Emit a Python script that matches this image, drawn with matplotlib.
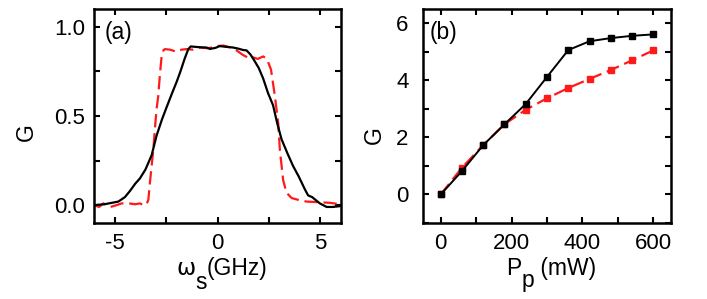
import matplotlib
matplotlib.use("Agg")
import matplotlib.pyplot as plt
from matplotlib.ticker import MultipleLocator, FuncFormatter
from matplotlib.transforms import IdentityTransform

plt.rcParams['font.family'] = ['Liberation Sans', 'DejaVu Sans']

# Panel (a): gain spectrum
freq_black = [-6.0, -5.5, -4.82, -4.5, -4.25, -4.0, -3.77, -3.5, -3.2, -2.96, -2.7, -2.47, -2.2,
              -1.99, -1.8, -1.6, -1.42, -1.3, -1.1, -0.8, -0.53, -0.37, -0.1, 0.11, 0.4, 0.76,
              1.0, 1.25, 1.41, 1.6, 1.74, 2.0, 2.22, 2.45, 2.7, 2.9, 3.11, 3.4, 3.67, 3.95,
              4.24, 4.4, 4.6, 4.97, 5.3, 5.6, 6.0]
gain_black = [0.0, 0.005, 0.02, 0.045, 0.08, 0.12, 0.15, 0.2, 0.28, 0.39, 0.48, 0.55, 0.63,
              0.69, 0.75, 0.82, 0.875, 0.89, 0.888, 0.885, 0.884, 0.876, 0.882, 0.892, 0.888,
              0.884, 0.878, 0.87, 0.868, 0.845, 0.82, 0.77, 0.71, 0.63, 0.56, 0.46, 0.37, 0.29,
              0.22, 0.16, 0.09, 0.055, 0.045, 0.01, -0.01, -0.01, -0.005]

freq_red = [-6.0, -5.75, -5.55, -5.2, -4.9, -4.66, -4.3, -4.0, -3.77, -3.6, -3.45, -3.36, -3.28,
            -3.2, -3.12, -3.04, -2.96, -2.88, -2.8, -2.71, -2.62, -2.55, -2.3, -1.99, -1.75,
            -1.5, -1.2, -0.85, -0.5, -0.2, 0.04, 0.3, 0.6, 0.9, 1.2, 1.35, 1.49, 1.7, 1.95,
            2.22, 2.4, 2.6, 2.79, 2.95, 3.03, 3.19, 3.35, 3.6, 3.92, 4.33, 4.89, 5.46, 6.0]
gain_red = [0.0, -0.01, 0.01, -0.01, 0.0, 0.01, 0.01, 0.005, 0.01, 0.0, 0.005, 0.03, 0.13,
            0.22, 0.31, 0.43, 0.54, 0.61, 0.73, 0.84, 0.87, 0.875, 0.872, 0.86, 0.872,
            0.875, 0.872, 0.884, 0.88, 0.885, 0.893, 0.895, 0.885, 0.87, 0.845, 0.835, 0.828,
            0.83, 0.82, 0.834, 0.82, 0.76, 0.61, 0.46, 0.31, 0.14, 0.07, 0.04, 0.03, 0.02,
            0.017, 0.013, 0.005]

# Panel (b): gain vs pump power
pump_power = [0, 60, 120, 180, 240, 300, 360, 420, 480, 540, 600]
gain_b_black = [0.0, 0.82, 1.73, 2.46, 3.17, 4.12, 5.06, 5.37, 5.48, 5.56, 5.61]
gain_b_red = [0.0, 0.94, 1.73, 2.46, 2.97, 3.37, 3.73, 4.05, 4.36, 4.70, 5.05]

FS = 16
W, H = 707, 299
fig = plt.figure(figsize=(W / 100, H / 100), dpi=100)
ax1 = fig.add_axes([94/W, 1-223/H, 247/W, 214/H])
ax2 = fig.add_axes([423/W, 1-223/H, 248/W, 214/H])

def style(ax, ypad):
    for s in ax.spines.values():
        s.set_linewidth(1.8)
    ax.tick_params(which='both', direction='in', top=True, right=True,
                   length=4.5, width=1.5, labelsize=FS)
    ax.tick_params(axis='x', which='both', pad=7)
    ax.tick_params(axis='y', which='both', pad=ypad)

def pieced_label(pieces, cx, baseline_from_top, fs):
    renderer = fig.canvas.get_renderer()
    texts = []
    for s, dy, fam in pieces:
        t = fig.text(0, 0, s, fontsize=fs, transform=IdentityTransform(),
                     ha='left', va='baseline', family=fam)
        texts.append((t, dy))
    widths = [t.get_window_extent(renderer).width for t, _ in texts]
    x = cx - sum(widths) / 2
    yb = H - baseline_from_top
    for (t, dy), w in zip(texts, widths):
        t.set_position((x, yb - dy))
        x += w

LS = ['Liberation Sans', 'DejaVu Sans']

# (a)
ax1.plot(freq_black, gain_black, color='black', lw=1.6, zorder=3)
ax1.plot(freq_red, gain_red, color='#ff1a1a', lw=1.6, dashes=(6, 2.6), zorder=2)
ax1.set_xlim(-6, 6)
ax1.set_ylim(-0.1, 1.1)
ax1.xaxis.set_major_locator(MultipleLocator(5))
ax1.xaxis.set_minor_locator(MultipleLocator(2.5))
ax1.yaxis.set_major_locator(MultipleLocator(0.5))
ax1.yaxis.set_minor_locator(MultipleLocator(0.25))
ax1.yaxis.set_major_formatter(FuncFormatter(lambda v, p: f"{v:.1f}"))
ax1.xaxis.set_major_formatter(FuncFormatter(lambda v, p: f"{v:g}"))
style(ax1, 6.5)
ax1.set_ylabel('G', fontsize=16.5)
ax1.yaxis.label.set_verticalalignment('center')
ax1.yaxis.set_label_coords(-0.275, 0.425)
ax1.text(0.045, 0.89, '(a)', transform=ax1.transAxes, fontsize=16.5, va='center', ha='left')
pieced_label([('ω', 0, ['DejaVu Sans']), ('s', 14, LS), ('(GHz)', 0, LS)], 222, 275, 16.5)

# (b)
ax2.plot(pump_power, gain_b_black, color='black', lw=1.4, marker='s', ms=4.5, zorder=3)
ax2.plot(pump_power, gain_b_red, color='#ff1a1a', lw=1.6, dashes=(6, 2.6), marker='s',
         ms=5, zorder=2)
ax2.set_xlim(-50, 650)
ax2.set_ylim(-1, 6.5)
ax2.xaxis.set_major_locator(MultipleLocator(200))
ax2.xaxis.set_minor_locator(MultipleLocator(100))
ax2.yaxis.set_major_locator(MultipleLocator(2))
ax2.yaxis.set_minor_locator(MultipleLocator(1))
style(ax2, 10.5)
ax2.set_ylabel('G', fontsize=16.5)
ax2.yaxis.label.set_verticalalignment('center')
ax2.yaxis.set_label_coords(-0.195, 0.41)
ax2.text(0.025, 0.89, '(b)', transform=ax2.transAxes, fontsize=16.5, va='center', ha='left')
pieced_label([('P', 0, LS), ('p', 12, LS), (' (mW)', 0, LS)], 551, 275, 16.5)

fig.savefig('out.png', dpi=100)
